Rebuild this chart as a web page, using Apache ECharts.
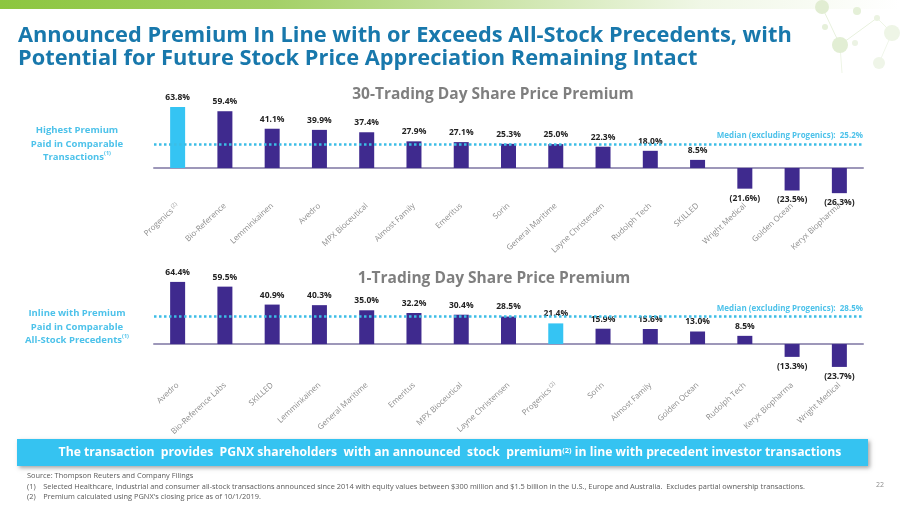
<!DOCTYPE html>
<html>
<head>
<meta charset="utf-8">
<script src="https://cdn.jsdelivr.net/npm/echarts@6/dist/echarts.min.js"></script>
<style>
html,body{margin:0;padding:0;background:#fff;}
#c{width:900px;height:506px;}
</style>
</head>
<body>
<div id="c"></div>
<script>
// ---- data ----
var cats30 = ['Progenics (2)', 'Bio-Reference', 'Lemminkainen', 'Avedro', 'MPX Bioceutical', 'Almost Family', 'Emeritus', 'Sorin', 'General Maritime', 'Layne Christensen', 'Rudolph Tech', 'SKILLED', 'Wright Medical', 'Golden Ocean', 'Keryx Biopharma'];
var vals30 = [63.8, 59.4, 41.1, 39.9, 37.4, 27.9, 27.1, 25.3, 25.0, 22.3, 18.0, 8.5, -21.6, -23.5, -26.3];
var median30 = 25.2;

var cats1 = ['Avedro', 'Bio-Reference Labs', 'SKILLED', 'Lemminkainen', 'General Maritime', 'Emeritus', 'MPX Bioceutical', 'Layne Christensen', 'Progenics (2)', 'Sorin', 'Almost Family', 'Golden Ocean', 'Rudolph Tech', 'Keryx Biopharma', 'Wright Medical'];
var vals1 = [64.4, 59.5, 40.9, 40.3, 35.0, 32.2, 30.4, 28.5, 21.4, 15.9, 15.6, 13.0, 8.5, -13.3, -23.7];
var median1 = 28.5;

var titleLines = ['Announced Premium In Line with or Exceeds All-Stock Precedents, with', 'Potential for Future Stock Price Appreciation Remaining Intact'];
var chartTitles = ['30-Trading Day Share Price Premium', '1-Trading Day Share Price Premium'];

var FONT = 'Open Sans';
var PURPLE = '#3F2A8E';
var CYAN = '#35C4F3';
var LIGHT = '#4DC2EA';

function fmt(v) {
  return v < 0 ? '(' + Math.abs(v).toFixed(1) + '%)' : v.toFixed(1) + '%';
}
function barData(cats, vals) {
  return vals.map(function (v, i) {
    var isP = cats[i].indexOf('Progenics') === 0;
    return {
      value: v,
      itemStyle: { color: isP ? CYAN : PURPLE },
      label: { position: v < 0 ? 'bottom' : 'top' }
    };
  });
}
function catFmt(v) {
  if (v.indexOf(' (2)') > 0) return '{n|' + v.replace(' (2)', '') + '}{s| (2)}';
  return '{n|' + v + '}';
}
function xAxisCfg(idx, cats, margin) {
  return {
    type: 'category', gridIndex: idx, data: cats,
    axisTick: { show: false },
    axisLine: { onZero: true, lineStyle: { color: '#9D97B9', width: 2 } },
    axisLabel: {
      interval: 0, rotate: 43, margin: margin, color: '#8C8C8C', fontSize: 8, fontFamily: FONT,
      formatter: catFmt,
      rich: {
        n: { fontSize: 8, color: '#8C8C8C', fontFamily: FONT },
        s: { fontSize: 5.5, color: '#8C8C8C', fontFamily: FONT, verticalAlign: 'top', padding: [0, 0, 4, 0] }
      }
    }
  };
}
function yAxisCfg(idx) {
  return { type: 'value', gridIndex: idx, min: -30, max: 70, show: false, splitLine: { show: false } };
}
function seriesCfg(idx, cats, vals, med) {
  return {
    type: 'bar', xAxisIndex: idx, yAxisIndex: idx, barWidth: 15,
    data: barData(cats, vals),
    label: {
      show: true, distance: 5, fontSize: 8.5, fontWeight: 'bold', color: '#222', fontFamily: FONT,
      formatter: function (p) { return fmt(p.value); }
    },
    markLine: {
      silent: true, symbol: 'none',
      lineStyle: { type: [2.5, 2.5], color: '#3CBDE6', width: 2.5 },
      label: {
        show: true, position: 'insideEndTop', distance: [0, 4],
        formatter: 'Median (excluding Progenics):  ' + med.toFixed(1) + '%',
        color: LIGHT, fontSize: 8, fontWeight: 'bold', fontFamily: FONT
      },
      data: [{ yAxis: med }]
    }
  };
}

var chart = echarts.init(document.getElementById('c'), null, { renderer: 'canvas' });

var grad = { type: 'linear', x: 0, y: 0, x2: 1, y2: 0, colorStops: [
  { offset: 0, color: '#8CC63F' }, { offset: 0.3, color: '#A3D066' },
  { offset: 0.55, color: '#CBE4A8' }, { offset: 0.78, color: '#F0F7E6' }, { offset: 1, color: '#FFFFFF' }] };

var graphics = [
  // top gradient band
  { type: 'rect', left: 0, top: 0, shape: { width: 900, height: 9 }, z: 0, style: { fill: grad } },
  // molecule decoration (faint)
  { type: 'group', left: 815, top: 0, children: [
    { type: 'line', shape: { x1: 10, y1: 14, x2: 28, y2: 52 }, style: { stroke: '#E8F1DE', lineWidth: 1 } },
    { type: 'line', shape: { x1: 28, y1: 52, x2: 65, y2: 25 }, style: { stroke: '#E8F1DE', lineWidth: 1 } },
    { type: 'line', shape: { x1: 28, y1: 52, x2: 30, y2: 80 }, style: { stroke: '#EEF5E6', lineWidth: 1 } },
    { type: 'line', shape: { x1: 65, y1: 25, x2: 80, y2: 40 }, style: { stroke: '#EEF5E6', lineWidth: 1 } },
    { type: 'line', shape: { x1: 80, y1: 40, x2: 67, y2: 70 }, style: { stroke: '#F0F6EA', lineWidth: 1 } },
    { type: 'circle', shape: { cx: 10, cy: 14, r: 7 }, style: { fill: '#E1EDD2' } },
    { type: 'circle', shape: { cx: 45, cy: 18, r: 4 }, style: { fill: '#E5F0D8' } },
    { type: 'circle', shape: { cx: 28, cy: 52, r: 8 }, style: { fill: '#E2EED4' } },
    { type: 'circle', shape: { cx: 13, cy: 34, r: 3 }, style: { fill: '#E6F0DA' } },
    { type: 'circle', shape: { cx: 65, cy: 25, r: 3 }, style: { fill: '#EBF3E2' } },
    { type: 'circle', shape: { cx: 80, cy: 40, r: 8 }, style: { fill: '#EEF5E6' } },
    { type: 'circle', shape: { cx: 67, cy: 70, r: 6 }, style: { fill: '#EFF5E8' } },
    { type: 'circle', shape: { cx: 43, cy: 50, r: 3 }, style: { fill: '#ECF3E4' } }
  ] },
  // main title
  { type: 'text', left: 18, top: 25, style: { text: titleLines[0], fill: '#1878AC', font: 'bold 21.8px "' + FONT + '"' } },
  { type: 'text', left: 18, top: 48, style: { text: titleLines[1], fill: '#1878AC', font: 'bold 21.8px "' + FONT + '"' } },
  // chart titles
  { type: 'text', x: 493, y: 95, style: { text: chartTitles[0], fill: '#7F7F7F', font: 'bold 15.5px "' + FONT + '"', textAlign: 'center', textVerticalAlign: 'middle' } },
  { type: 'text', x: 494, y: 279, style: { text: chartTitles[1], fill: '#7F7F7F', font: 'bold 15.5px "' + FONT + '"', textAlign: 'center', textVerticalAlign: 'middle' } },
  // left notes
  { type: 'text', x: 77, y: 144, style: {
      text: '{a|Highest Premium}\n{a|Paid in Comparable}\n{a|Transactions}{s|(1)}', textAlign: 'center', textVerticalAlign: 'middle',
      rich: { a: { fill: LIGHT, font: 'bold 9.5px "' + FONT + '"', lineHeight: 13.5 }, s: { fill: LIGHT, font: 'bold 5.5px "' + FONT + '"', verticalAlign: 'top', lineHeight: 13.5 } } } },
  { type: 'text', x: 77, y: 327, style: {
      text: '{a|Inline with Premium}\n{a|Paid in Comparable}\n{a|All-Stock Precedents}{s|(1)}', textAlign: 'center', textVerticalAlign: 'middle',
      rich: { a: { fill: LIGHT, font: 'bold 9.5px "' + FONT + '"', lineHeight: 13.5 }, s: { fill: LIGHT, font: 'bold 5.5px "' + FONT + '"', verticalAlign: 'top', lineHeight: 13.5 } } } },
  // banner
  { type: 'rect', left: 17, top: 439, shape: { width: 851, height: 27 },
    style: { fill: '#35C3F1', shadowBlur: 4, shadowColor: 'rgba(0,0,0,0.35)', shadowOffsetX: 2, shadowOffsetY: 2 } },
  { type: 'text', x: 450, y: 452.5, style: {
      text: '{a|The transaction  provides  PGNX shareholders  with an announced  stock  premium}{s|(2)}{a| in line with precedent investor transactions}',
      textAlign: 'center', textVerticalAlign: 'middle',
      rich: { a: { fill: '#fff', font: 'bold 12.2px "' + FONT + '"' }, s: { fill: '#fff', font: 'bold 7.5px "' + FONT + '"', verticalAlign: 'top' } } } },
  // footnotes
  { type: 'text', left: 27, top: 472, style: { text: 'Source: Thompson Reuters and Company Filings', fill: '#595959', font: '7.4px "' + FONT + '"' } },
  { type: 'text', left: 27, top: 483, style: { text: '(1)    Selected Healthcare, Industrial and consumer all-stock transactions announced since 2014 with equity values between $300 million and $1.5 billion in the U.S., Europe and Australia.  Excludes partial ownership transactions.', fill: '#595959', font: '7.4px "' + FONT + '"' } },
  { type: 'text', left: 27, top: 493, style: { text: '(2)    Premium calculated using PGNX\'s closing price as of 10/1/2019.', fill: '#595959', font: '7.4px "' + FONT + '"' } },
  { type: 'text', left: 876, top: 481, style: { text: '22', fill: '#8C8C8C', font: '7px "' + FONT + '"' } }
];

chart.setOption({
  animation: false,
  textStyle: { fontFamily: FONT },
  grid: [
    { left: 154, right: 37, top: 101.1, height: 95.6 },
    { left: 154, right: 37, top: 276.5, height: 96.5 }
  ],
  xAxis: [xAxisCfg(0, cats30, 8), xAxisCfg(1, cats1, 11)],
  yAxis: [yAxisCfg(0), yAxisCfg(1)],
  series: [seriesCfg(0, cats30, vals30, median30), seriesCfg(1, cats1, vals1, median1)],
  graphic: graphics
});
</script>
</body>
</html>
